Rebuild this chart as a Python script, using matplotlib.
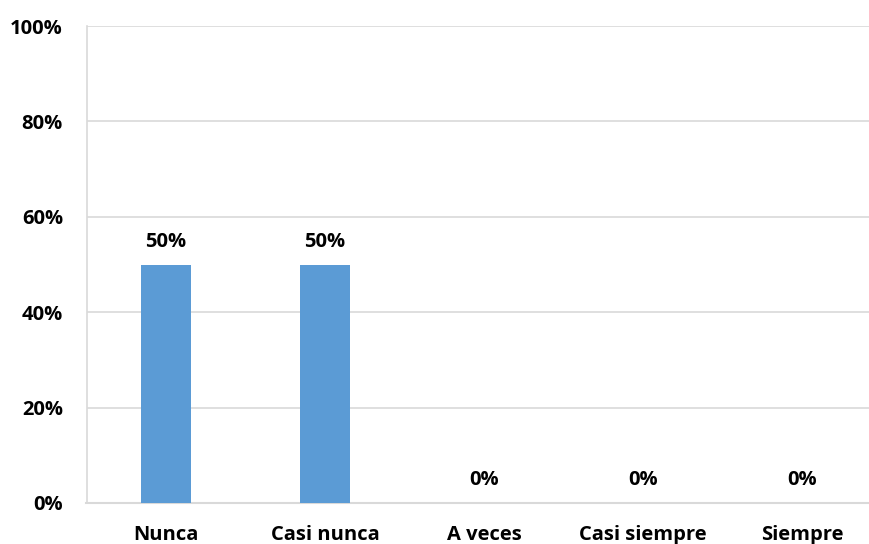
import matplotlib.pyplot as plt
from matplotlib.ticker import PercentFormatter

categories = ['Nunca', 'Casi nunca', 'A veces', 'Casi siempre', 'Siempre']
values = [50, 50, 0, 0, 0]

plt.rcParams['font.family'] = ['Open Sans', 'DejaVu Sans']
plt.rcParams['font.weight'] = 'bold'

fig = plt.figure(figsize=(8.69, 5.44), dpi=100)
# axes run slightly past the right edge, as in the reference crop
ax = fig.add_axes([86.5 / 869, 41 / 544, 795 / 869, 477 / 544])

x = range(len(categories))
ax.bar(x, values, width=0.315, color='#5b9bd5', zorder=3)

for xi, v in zip(x, values):
    ax.annotate(f'{v}%', (xi, v), xytext=(0, 16.5), textcoords='offset points',
                ha='center', va='center', fontsize=14.5, fontweight='bold')

ax.set_xlim(-0.5, len(categories) - 0.5)
ax.set_ylim(0, 100)
ax.set_yticks(range(0, 101, 20))
ax.yaxis.set_major_formatter(PercentFormatter(decimals=0))
ax.set_xticks(list(x))
ax.set_xticklabels(categories)
ax.tick_params(axis='both', length=0, labelsize=14.5)
ax.tick_params(axis='y', pad=17)
ax.tick_params(axis='x', pad=15.5)
for lab in ax.get_xticklabels() + ax.get_yticklabels():
    lab.set_fontweight('bold')

ax.grid(axis='y', color='#d9d9d9', linewidth=1.2, zorder=0)
for s in ['top', 'right']:
    ax.spines[s].set_visible(False)
ax.spines['left'].set_color('#d9d9d9')
ax.spines['left'].set_linewidth(1.2)
ax.spines['bottom'].set_color('#d9d9d9')
ax.spines['bottom'].set_linewidth(1.5)

fig.savefig('out.png', dpi=100)
